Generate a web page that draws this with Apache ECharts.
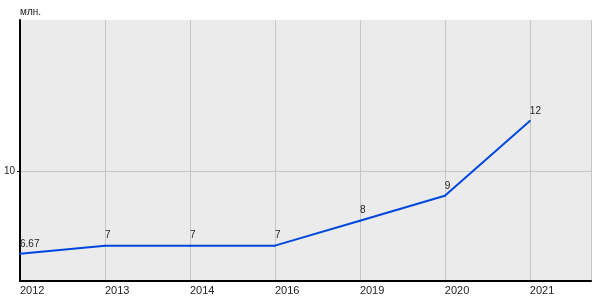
<!DOCTYPE html>
<html><head><meta charset="utf-8">
<script src="https://cdn.jsdelivr.net/npm/echarts@6/dist/echarts.min.js"></script>
<style>html,body{margin:0;padding:0;background:#fff}#c{width:600px;height:300px}</style>
</head><body><div id="c"></div>
<script>
var categories = ['2012', '2013', '2014', '2016', '2019', '2020', '2021'];
var values = [6.67, 7, 7, 7, 8, 9, 12];
var yTickValues = [10];
var unitLabel = 'млн.';

var chart = echarts.init(document.getElementById('c'), null, {renderer: 'canvas'});
var font = '"Liberation Sans", Arial, sans-serif';
chart.setOption({
  animation: false,
  textStyle: {fontFamily: font},
  grid: {left: 20, right: 9, top: 20, bottom: 19, show: true, backgroundColor: '#ebebeb', borderWidth: 0},
  xAxis: {
    type: 'value', min: 0, max: 6.72, interval: 1,
    axisLine: {show: true, lineStyle: {color: '#000', width: 2}},
    axisTick: {show: false},
    splitLine: {show: true, lineStyle: {color: '#c6c6c6', width: 1}},
    axisLabel: {
      color: '#222', fontSize: 11, fontFamily: font, align: 'left', margin: 4,
      showMaxLabel: false,
      formatter: function (v) { var i = Math.round(v); return (Math.abs(v - i) < 1e-6 && categories[i] !== undefined) ? categories[i] : ''; }
    }
  },
  yAxis: {
    type: 'value', min: 5.58, max: 16.06,
    name: unitLabel, nameLocation: 'end', nameGap: 8,
    nameTextStyle: {color: '#222', fontSize: 10, fontFamily: font, align: 'left', verticalAlign: 'middle'},
    axisLine: {show: true, onZero: false, lineStyle: {color: '#000', width: 2}},
    axisTick: {show: true, length: 3, customValues: yTickValues, lineStyle: {color: '#000'}},
    splitLine: {show: true, lineStyle: {color: '#c6c6c6', width: 1}},
    axisLabel: {customValues: yTickValues, color: '#222', fontSize: 10, fontFamily: font, margin: 5}
  },
  series: [{
    type: 'line',
    data: values.map(function (v, i) { return [i, v]; }),
    showSymbol: true, symbol: 'circle', symbolSize: 2,
    itemStyle: {color: '#0047de'},
    lineStyle: {color: '#0047de', width: 2},
    label: {
      show: true, position: 'top', align: 'left', distance: 4,
      color: '#222', fontSize: 10, fontFamily: font,
      formatter: function (p) { return String(p.value[1]); }
    },
    labelLayout: {hideOverlap: false},
    markLine: {
      silent: true, symbol: 'none', label: {show: false},
      lineStyle: {color: '#c6c6c6', width: 1, type: 'solid'},
      data: yTickValues.map(function (v) { return {yAxis: v}; }),
      z: 0
    },
    z: 3
  }]
});
</script></body></html>
